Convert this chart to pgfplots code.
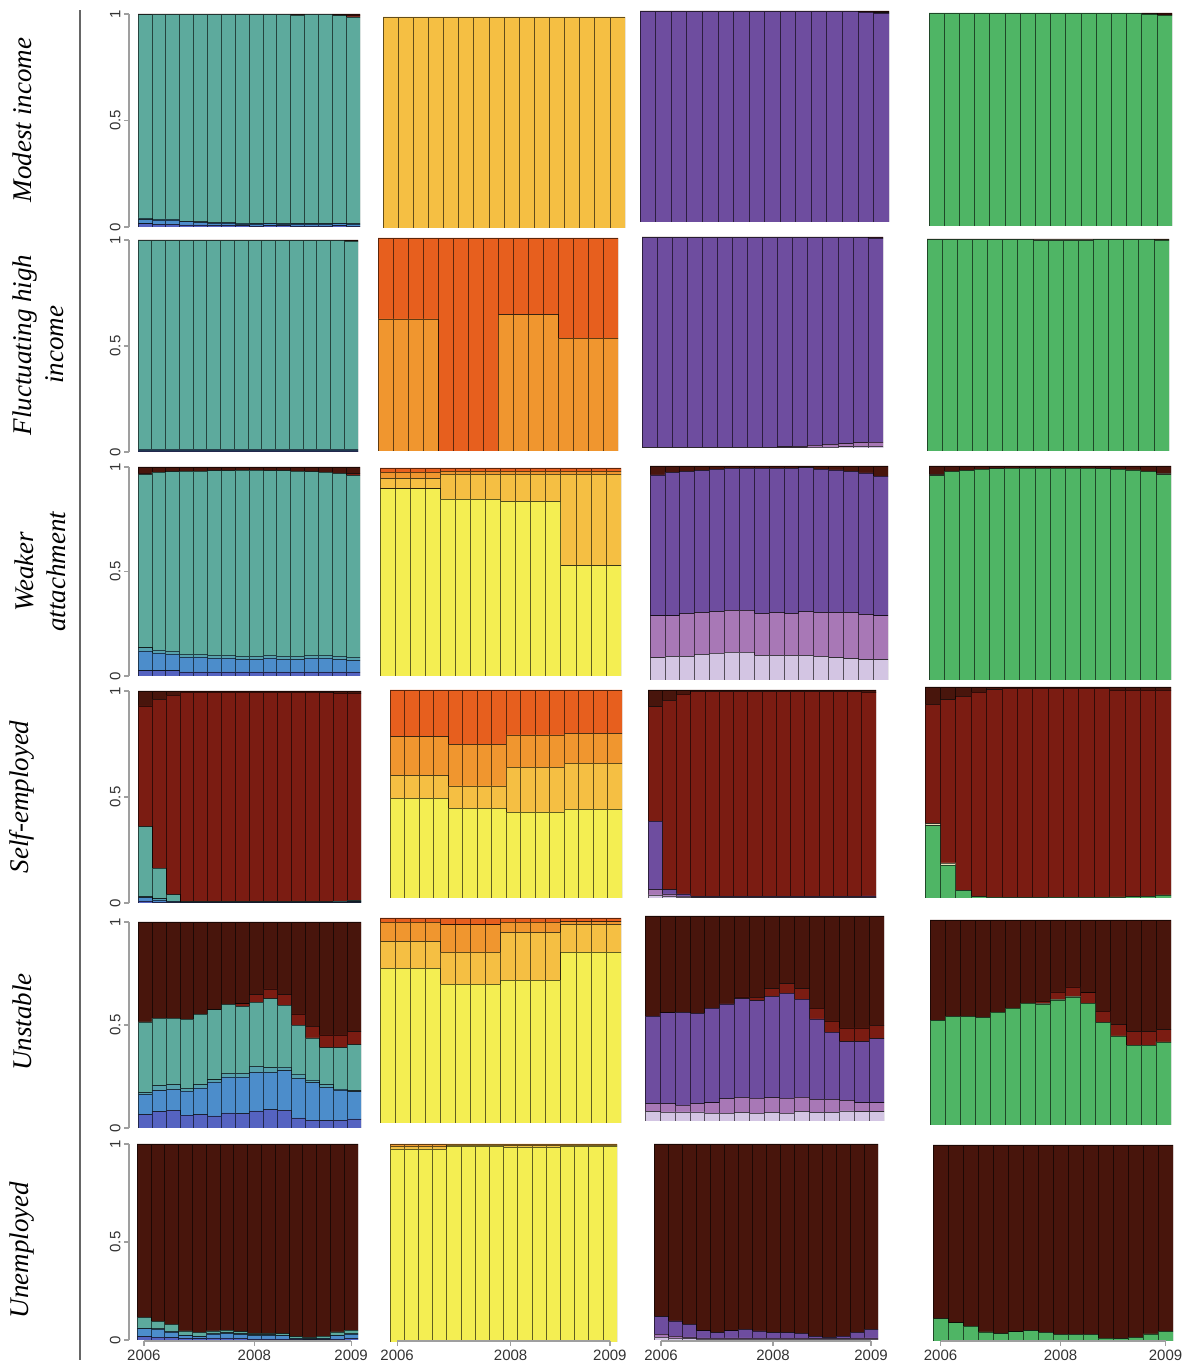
\documentclass[border=0pt]{standalone}
\usepackage{pgfplots}
\pgfplotsset{compat=1.18}
\usepackage{pgfplotstable}
\usepackage{fontspec}
\setmainfont{Liberation Serif}
\newfontfamily\sansf{Liberation Sans}
\newcommand\tickfont{\sansf\fontsize{15}{17}\selectfont}
\newcommand\rowfont{\itshape\fontsize{27}{32}\selectfont}

\definecolor{cIndigo}{HTML}{5563C1}
\definecolor{cBlue}{HTML}{4C8DCB}
\definecolor{cTB}{HTML}{57A2AE}
\definecolor{cTeal}{HTML}{5DAA9D}
\definecolor{cRed}{HTML}{7B1C12}
\definecolor{cBrown}{HTML}{48150C}
\definecolor{cYellow}{HTML}{F4EE52}
\definecolor{cLOrange}{HTML}{F5BF43}
\definecolor{cOrange}{HTML}{F0962F}
\definecolor{cDOrange}{HTML}{E75F1E}
\definecolor{cLav}{HTML}{D3C5E3}
\definecolor{cPink}{HTML}{A878B6}
\definecolor{cPurple}{HTML}{6E4D9F}
\definecolor{cGreen}{HTML}{4FB565}
\definecolor{cCream}{HTML}{E6E2B8}

% ---------- Modest income ----------
\pgfplotstableread{
x a b c d e f
1 .015 .020 .008 .954 0 .003
2 .012 .020 .006 .960 0 .002
3 .012 .020 .006 .960 0 .002
4 .010 .015 .004 .969 0 .002
5 .010 .012 .004 .972 0 .002
6 .008 .010 .004 .976 0 .002
7 .008 .010 .004 .976 0 .002
8 .006 .008 .004 .980 0 .002
9 .005 .008 .003 .982 0 .002
10 .006 .010 .003 .979 0 .002
11 .006 .008 .003 .981 0 .002
12 .005 .008 .003 .979 .002 .003
13 .005 .008 .003 .982 0 .002
14 .005 .008 .003 .982 0 .002
15 .006 .010 .003 .974 .002 .005
16 .004 .010 .003 .969 .010 .004
}\ModA
\pgfplotstableread{
x a b c d
1 0 1 0 0
2 0 1 0 0
3 0 1 0 0
4 0 1 0 0
5 0 1 0 0
6 0 1 0 0
7 0 1 0 0
8 0 1 0 0
9 0 1 0 0
10 0 1 0 0
11 0 1 0 0
12 0 1 0 0
13 0 1 0 0
14 0 1 0 0
15 0 1 0 0
16 0 1 0 0
}\ModB
\pgfplotstableread{
x a b c d e
1 0 0 .998 0 .002
2 0 0 .998 0 .002
3 0 0 .998 0 .002
4 0 0 .998 0 .002
5 0 0 .998 0 .002
6 0 0 .998 0 .002
7 0 0 .998 0 .002
8 0 0 .998 0 .002
9 0 0 .998 0 .002
10 0 0 .998 0 .002
11 0 0 .998 0 .002
12 0 0 .998 0 .002
13 0 0 .998 0 .002
14 0 0 .998 0 .002
15 0 0 .995 0 .005
16 0 0 .990 .002 .008
}\ModC
\pgfplotstableread{
x a b c d
1 1 0 0 0
2 1 0 0 0
3 1 0 0 0
4 1 0 0 0
5 1 0 0 0
6 1 0 0 0
7 1 0 0 0
8 1 0 0 0
9 1 0 0 0
10 1 0 0 0
11 1 0 0 0
12 1 0 0 0
13 1 0 0 0
14 1 0 0 0
15 .995 0 .002 .003
16 .990 0 .006 .004
}\ModD
% ---------- Fluctuating high income ----------
\pgfplotstableread{
x a b c d e f
1 .004 .006 .002 .986 0 .002
2 .004 .006 .002 .986 0 .002
3 .004 .006 .002 .986 0 .002
4 .004 .006 .002 .986 0 .002
5 .004 .006 .002 .986 0 .002
6 .004 .006 .002 .986 0 .002
7 .004 .006 .002 .986 0 .002
8 .004 .006 .002 .986 0 .002
9 .004 .006 .002 .986 0 .002
10 .004 .006 .002 .986 0 .002
11 .004 .006 .002 .986 0 .002
12 .004 .006 .002 .986 0 .002
13 .004 .006 .002 .986 0 .002
14 .004 .006 .002 .986 0 .002
15 .004 .006 .002 .986 0 .002
16 .004 .006 .002 .983 0 .005
}\FluA
\pgfplotstableread{
x a b c d
1 0 0 .62 .38
2 0 0 .62 .38
3 0 0 .62 .38
4 0 0 .62 .38
5 0 0 0 1
6 0 0 0 1
7 0 0 0 1
8 0 0 0 1
9 0 0 .64 .36
10 0 0 .64 .36
11 0 0 .64 .36
12 0 0 .64 .36
13 0 0 .53 .47
14 0 0 .53 .47
15 0 0 .53 .47
16 0 0 .53 .47
}\FluB
\pgfplotstableread{
x a b c d e
1 .002 .002 .994 0 .002
2 .002 .002 .994 0 .002
3 .002 .002 .994 0 .002
4 .002 .002 .994 0 .002
5 .002 .002 .994 0 .002
6 .002 .002 .994 0 .002
7 .002 .002 .994 0 .002
8 .002 .002 .994 0 .002
9 .002 .002 .994 0 .002
10 .002 .004 .992 0 .002
11 .002 .006 .990 0 .002
12 .004 .009 .985 0 .002
13 .005 .012 .981 0 .002
14 .006 .015 .977 0 .002
15 .008 .018 .972 0 .002
16 .008 .020 .968 0 .004
}\FluC
\pgfplotstableread{
x a b c d
1 .998 0 0 .002
2 .998 0 0 .002
3 .998 0 0 .002
4 .998 0 0 .002
5 .998 0 0 .002
6 .998 0 0 .002
7 .998 0 0 .002
8 .993 .005 0 .002
9 .993 .005 0 .002
10 .993 .005 0 .002
11 .993 .005 0 .002
12 .998 0 0 .002
13 .998 0 0 .002
14 .998 0 0 .002
15 .998 0 0 .002
16 .996 0 0 .004
}\FluD
% ---------- Weaker attachment ----------
\pgfplotstableread{
x a b c d e f
1 .025 .095 .015 .830 .005 .030
2 .025 .085 .015 .850 0 .025
3 .025 .080 .015 .858 0 .022
4 .020 .070 .015 .875 0 .020
5 .020 .070 .015 .875 0 .020
6 .020 .065 .015 .882 0 .018
7 .020 .065 .015 .883 0 .017
8 .020 .060 .015 .890 0 .015
9 .020 .060 .015 .890 0 .015
10 .020 .065 .015 .883 0 .017
11 .020 .060 .015 .887 0 .018
12 .020 .060 .015 .885 0 .020
13 .020 .065 .015 .878 0 .022
14 .020 .065 .015 .875 0 .025
15 .020 .060 .015 .875 0 .030
16 .020 .055 .015 .870 .008 .032
}\WeaA
\pgfplotstableread{
x a b c d
1 .90 .05 .03 .02
2 .90 .05 .03 .02
3 .90 .05 .03 .02
4 .90 .05 .03 .02
5 .85 .12 .015 .015
6 .85 .12 .015 .015
7 .85 .12 .015 .015
8 .85 .12 .015 .015
9 .84 .13 .015 .015
10 .84 .13 .015 .015
11 .84 .13 .015 .015
12 .84 .13 .015 .015
13 .53 .44 .015 .015
14 .53 .44 .015 .015
15 .53 .44 .015 .015
16 .53 .44 .015 .015
}\WeaB
\pgfplotstableread{
x a b c d e
1 .105 .195 .658 0 .042
2 .110 .190 .670 0 .030
3 .110 .200 .665 0 .025
4 .120 .195 .665 0 .020
5 .125 .195 .665 0 .015
6 .130 .195 .665 0 .010
7 .130 .195 .665 0 .010
8 .115 .195 .680 0 .010
9 .115 .200 .675 0 .010
10 .115 .195 .680 0 .010
11 .115 .205 .672 0 .008
12 .110 .205 .670 0 .015
13 .105 .210 .667 0 .018
14 .100 .215 .660 0 .025
15 .095 .210 .663 0 .032
16 .095 .205 .653 0 .047
}\WeaC
\pgfplotstableread{
x a b c d
1 .955 .005 0 .040
2 .975 0 0 .025
3 .980 0 0 .020
4 .985 0 0 .015
5 .988 0 0 .012
6 .990 0 0 .010
7 .990 0 0 .010
8 .990 0 0 .010
9 .990 0 0 .010
10 .990 0 0 .010
11 .990 0 0 .010
12 .988 0 0 .012
13 .985 0 0 .015
14 .982 0 0 .018
15 .975 0 0 .025
16 .960 .005 0 .035
}\WeaD
% ---------- Self-employed ----------
\pgfplotstableread{
x a b c d e f
1 .010 .015 .005 .330 .570 .070
2 .005 .010 .005 .145 .795 .040
3 .003 .005 .002 .030 .940 .020
4 .002 .002 0 .003 .988 .005
5 .002 .002 0 .003 .988 .005
6 .002 .002 0 .003 .988 .005
7 .002 .002 0 .003 .988 .005
8 .002 .002 0 .003 .988 .005
9 .002 .002 0 .003 .988 .005
10 .002 .002 0 .003 .988 .005
11 .002 .002 0 .003 .988 .005
12 .002 .002 0 .003 .988 .005
13 .002 .002 0 .003 .988 .005
14 .002 .002 0 .003 .985 .008
15 .002 .003 0 .004 .981 .010
16 .002 .004 .001 .005 .978 .010
}\SelA
\pgfplotstableread{
x a b c d
1 .480 .109 .187 .224
2 .480 .109 .187 .224
3 .480 .109 .187 .224
4 .480 .109 .187 .224
5 .432 .107 .200 .261
6 .432 .107 .200 .261
7 .432 .107 .200 .261
8 .432 .107 .200 .261
9 .413 .216 .155 .216
10 .413 .216 .155 .216
11 .413 .216 .155 .216
12 .413 .216 .155 .216
13 .427 .221 .144 .208
14 .427 .221 .144 .208
15 .427 .221 .144 .208
16 .427 .221 .144 .208
}\SelB
\pgfplotstableread{
x a b c d e
1 .015 .025 .330 .550 .080
2 .010 .010 .020 .910 .050
3 .005 .005 .010 .960 .020
4 .002 .002 .004 .985 .007
5 .002 .002 .004 .985 .007
6 .002 .002 .004 .985 .007
7 .002 .002 .004 .985 .007
8 .002 .002 .004 .985 .007
9 .002 .002 .004 .985 .007
10 .002 .002 .004 .985 .007
11 .002 .002 .004 .985 .007
12 .002 .002 .004 .985 .007
13 .002 .002 .004 .985 .007
14 .002 .002 .004 .985 .007
15 .002 .002 .004 .985 .007
16 .002 .002 .006 .980 .010
}\SelC
\pgfplotstableread{
x a b c d
1 .343 .010 .565 .082
2 .156 .010 .774 .060
3 .036 0 .920 .044
4 .006 0 .970 .024
5 .004 0 .983 .013
6 .003 0 .992 .005
7 .003 0 .992 .005
8 .003 0 .992 .005
9 .004 0 .991 .005
10 .004 0 .991 .005
11 .004 0 .991 .005
12 .004 0 .991 .005
13 .005 0 .980 .015
14 .006 0 .979 .015
15 .008 0 .977 .015
16 .015 0 .970 .015
}\SelD
% ---------- Unstable ----------
\pgfplotstableread{
x a b c d e f
1 .065 .098 .009 .343 0 .485
2 .080 .102 .024 .327 0 .467
3 .085 .102 .023 .323 0 .467
4 .062 .117 .013 .336 0 .472
5 .065 .130 .016 .342 0 .447
6 .059 .165 .010 .340 0 .426
7 .073 .174 .018 .335 0 .400
8 .070 .177 .018 .325 .013 .397
9 .083 .187 .029 .312 .036 .353
10 .089 .181 .023 .335 .047 .325
11 .085 .193 .018 .301 .050 .353
12 .049 .192 .021 .237 .055 .446
13 .037 .183 .013 .204 .056 .507
14 .036 .161 .014 .179 .062 .548
15 .037 .148 .005 .200 .062 .548
16 .044 .132 .006 .223 .063 .532
}\UnsA
\pgfplotstableread{
x a b c d
1 .755 .131 .094 .020
2 .755 .131 .094 .020
3 .755 .131 .094 .020
4 .755 .131 .094 .020
5 .677 .157 .133 .033
6 .677 .157 .133 .033
7 .677 .157 .133 .033
8 .677 .157 .133 .033
9 .697 .233 .050 .020
10 .697 .233 .050 .020
11 .697 .233 .050 .020
12 .697 .233 .050 .020
13 .834 .135 .013 .018
14 .834 .135 .013 .018
15 .834 .135 .013 .018
16 .834 .135 .013 .018
}\UnsB
\pgfplotstableread{
x a b c d e
1 .047 .038 .427 0 .488
2 .044 .041 .443 0 .472
3 .044 .034 .452 0 .470
4 .044 .041 .440 0 .475
5 .039 .050 .462 0 .449
6 .039 .070 .462 0 .429
7 .042 .073 .482 .008 .395
8 .039 .073 .475 .016 .397
9 .042 .072 .494 .038 .354
10 .039 .073 .512 .046 .330
11 .047 .070 .478 .051 .354
12 .042 .064 .392 .053 .449
13 .042 .064 .327 .055 .512
14 .049 .051 .287 .067 .546
15 .046 .043 .298 .067 .546
16 .046 .043 .313 .065 .533
}\UnsC
\pgfplotstableread{
x a b c d
1 .510 0 0 .490
2 .530 0 0 .470
3 .530 0 0 .470
4 .525 0 0 .475
5 .550 0 0 .450
6 .570 0 0 .430
7 .595 0 0 .405
8 .590 .004 .010 .396
9 .610 .004 .035 .351
10 .625 .004 .045 .326
11 .595 0 .050 .355
12 .500 0 .055 .445
13 .435 0 .055 .510
14 .390 0 .065 .545
15 .390 0 .065 .545
16 .405 0 .060 .535
}\UnsD
% ---------- Unemployed ----------
\pgfplotstableread{
x a b c d e f
1 .017 .041 .004 .054 0 .884
2 .015 .040 .004 .036 0 .905
3 .012 .028 .004 .036 0 .920
4 .008 .014 .004 .020 0 .954
5 .007 .010 .004 .018 0 .961
6 .010 .020 .004 .012 0 .954
7 .010 .024 .004 .013 0 .949
8 .008 .021 .004 .010 0 .957
9 .006 .018 .004 .006 0 .966
10 .006 .018 .004 .006 0 .966
11 .006 .016 .004 .006 0 .968
12 .003 .005 .002 .007 0 .983
13 .002 .003 .002 .007 0 .986
14 .002 .006 .002 .010 0 .980
15 .006 .016 .004 .015 0 .959
16 .008 .022 .004 .017 0 .949
}\UneA
\pgfplotstableread{
x a b c d
1 .975 .015 .010 0
2 .975 .015 .010 0
3 .975 .015 .010 0
4 .975 .015 .010 0
5 .990 .005 .005 0
6 .990 .005 .005 0
7 .990 .005 .005 0
8 .990 .005 .005 0
9 .985 .010 .005 0
10 .985 .010 .005 0
11 .985 .010 .005 0
12 .985 .010 .005 0
13 .990 .005 .005 0
14 .990 .005 .005 0
15 .990 .005 .005 0
16 .990 .005 .005 0
}\UneB
\pgfplotstableread{
x a b c d e
1 .015 .015 .089 0 .881
2 .010 .010 .077 0 .903
3 .008 .008 .064 0 .920
4 .005 .006 .036 0 .953
5 .005 .005 .027 0 .963
6 .005 .006 .036 0 .953
7 .005 .006 .043 0 .946
8 .005 .005 .036 0 .954
9 .005 .005 .027 0 .963
10 .005 .005 .027 0 .963
11 .005 .005 .024 0 .966
12 .004 .004 .011 0 .981
13 .004 .004 .006 0 .986
14 .004 .004 .012 0 .980
15 .005 .005 .029 0 .961
16 .005 .006 .043 0 .946
}\UneC
\pgfplotstableread{
x a b c d
1 .114 0 0 .886
2 .093 0 0 .907
3 .076 0 0 .924
4 .046 0 0 .954
5 .037 0 0 .963
6 .047 0 0 .953
7 .053 0 0 .947
8 .044 0 0 .956
9 .034 0 0 .966
10 .034 0 0 .966
11 .034 0 0 .966
12 .015 0 0 .985
13 .012 0 0 .988
14 .019 0 0 .981
15 .036 0 0 .964
16 .049 0 0 .951
}\UneD

\pgfplotsset{
  panel/.style={scale only axis, anchor=south west, hide axis,
    xmin=0.5, xmax=16.5, ymin=0, ymax=1,
    ybar stacked, bar width=1,
    every axis plot/.append style={draw=black, draw opacity=0.6, line width=0.6pt}},
  yax/.style={scale only axis, anchor=south west, width=1pt,
    xmin=0, xmax=1, ymin=0, ymax=1, hide x axis, axis y line*=left,
    axis line style={-, draw=gray!75, line width=1.2pt},
    ytick={0,0.5,1}, yticklabels={0,0.5,1},
    tick align=outside, major tick length=5pt,
    ytick style={draw=gray!75, line width=1.2pt},
    yticklabel style={rotate=90, anchor=south, font=\tickfont, text=black!80}},
  xax/.style={scale only axis, anchor=south west, height=1pt,
    xmin=1, xmax=16, ymin=0, ymax=1, hide y axis, axis x line*=bottom,
    axis line style={-, draw=gray!75, line width=1.2pt},
    xtick={1,9,16}, xticklabels={2006,2008,2009},
    tick align=outside, major tick length=5pt,
    xtick style={draw=gray!75, line width=1.2pt},
    xticklabel style={font=\tickfont, text=black!80}}
}

\newcommand{\panelT}[5]{%
\begin{axis}[panel, at={(#2pt,#3pt)}, width=#4pt, height=#5pt]
\addplot[fill=cIndigo] table[x=x,y=a]{#1};
\addplot[fill=cBlue] table[x=x,y=b]{#1};
\addplot[fill=cTB] table[x=x,y=c]{#1};
\addplot[fill=cTeal] table[x=x,y=d]{#1};
\addplot[fill=cRed] table[x=x,y=e]{#1};
\addplot[fill=cBrown] table[x=x,y=f]{#1};
\end{axis}}
\newcommand{\panelY}[5]{%
\begin{axis}[panel, at={(#2pt,#3pt)}, width=#4pt, height=#5pt]
\addplot[fill=cYellow] table[x=x,y=a]{#1};
\addplot[fill=cLOrange] table[x=x,y=b]{#1};
\addplot[fill=cOrange] table[x=x,y=c]{#1};
\addplot[fill=cDOrange] table[x=x,y=d]{#1};
\end{axis}}
\newcommand{\panelP}[5]{%
\begin{axis}[panel, at={(#2pt,#3pt)}, width=#4pt, height=#5pt]
\addplot[fill=cLav] table[x=x,y=a]{#1};
\addplot[fill=cPink] table[x=x,y=b]{#1};
\addplot[fill=cPurple] table[x=x,y=c]{#1};
\addplot[fill=cRed] table[x=x,y=d]{#1};
\addplot[fill=cBrown] table[x=x,y=e]{#1};
\end{axis}}
\newcommand{\panelG}[5]{%
\begin{axis}[panel, at={(#2pt,#3pt)}, width=#4pt, height=#5pt]
\addplot[fill=cGreen] table[x=x,y=a]{#1};
\addplot[fill=cCream] table[x=x,y=b]{#1};
\addplot[fill=cRed] table[x=x,y=c]{#1};
\addplot[fill=cBrown] table[x=x,y=d]{#1};
\end{axis}}
\newcommand{\yaxisat}[2]{%
\begin{axis}[yax, at={(129pt,#1pt)}, height=#2pt]
\end{axis}}
\newcommand{\xaxisat}[2]{%
\begin{axis}[xax, at={(#1pt,21pt)}, width=#2pt]
\end{axis}}

\begin{document}
\begin{tikzpicture}
\path[use as bounding box] (0,0) rectangle (1189pt,1362pt);
\draw[gray!80!black, line width=1.5pt] (80pt,2pt) -- (80pt,1352pt);

\node[rotate=90, align=center, font=\rowfont] at (22pt,1242pt) {Modest income};
\node[rotate=90, align=center, font=\rowfont] at (38pt,1017pt) {Fluctuating high\\income};
\node[rotate=90, align=center, font=\rowfont] at (40pt,790pt) {Weaker\\attachment};
\node[rotate=90, align=center, font=\rowfont] at (22pt,565pt) {Self-employed};
\node[rotate=90, align=center, font=\rowfont] at (22pt,340pt) {Unstable};
\node[rotate=90, align=center, font=\rowfont] at (22pt,112pt) {Unemployed};

\panelT{\ModA}{138}{1135}{222}{213}
\panelY{\ModB}{383}{1134}{242}{211}
\panelP{\ModC}{640}{1140}{249}{211}
\panelG{\ModD}{929}{1136}{243}{213}
\panelT{\FluA}{138}{910}{220}{212}
\panelY{\FluB}{378}{911}{240}{213}
\panelP{\FluC}{642}{914}{241}{211}
\panelG{\FluD}{927}{911}{242}{212}
\panelT{\WeaA}{138}{686}{222}{209}
\panelY{\WeaB}{380}{686}{241}{208}
\panelP{\WeaC}{650}{682}{238}{214}
\panelG{\WeaD}{929}{682}{242}{214}
\panelT{\SelA}{138}{459}{223}{212}
\panelY{\SelB}{390}{464}{232}{208}
\panelP{\SelC}{648}{464}{228}{208}
\panelG{\SelD}{925}{464}{246}{211}
\panelT{\UnsA}{138}{234}{223}{206}
\panelY{\UnsB}{380}{239}{241}{205}
\panelP{\UnsC}{645}{241}{239}{205}
\panelG{\UnsD}{930}{237}{241}{205}
\panelT{\UneA}{137}{22}{221}{196}
\panelY{\UneB}{390}{20}{227}{198}
\panelP{\UneC}{654}{22}{224}{196}
\panelG{\UneD}{933}{21}{240}{196}

\yaxisat{1135}{213}
\yaxisat{910}{212}
\yaxisat{686}{209}
\yaxisat{459}{212}
\yaxisat{234}{206}
\yaxisat{22}{196}

\xaxisat{143.9}{207.2}
\xaxisat{397.1}{212.8}
\xaxisat{661}{210}
\xaxisat{940.5}{225}
\end{tikzpicture}
\end{document}
